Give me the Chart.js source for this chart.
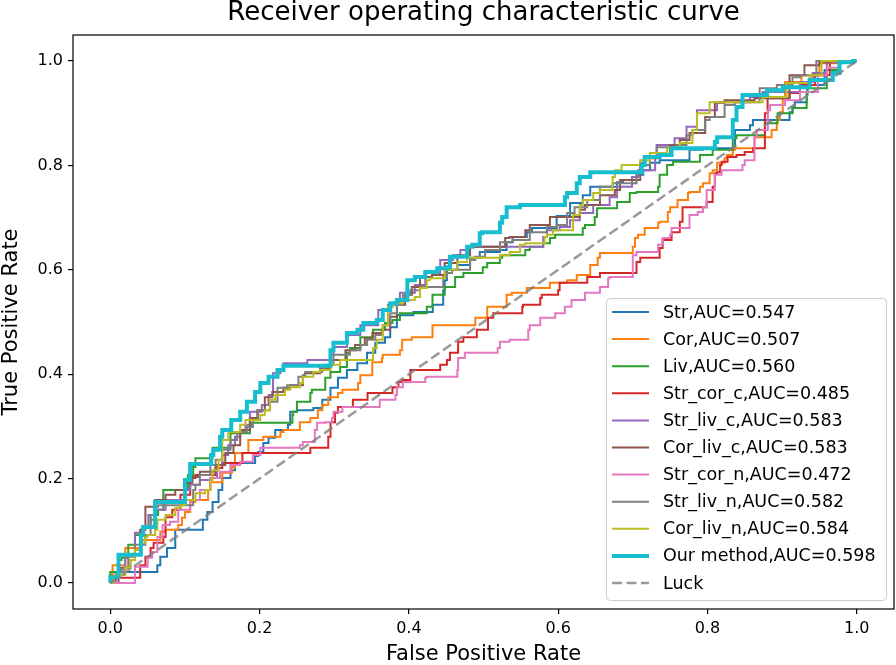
<!DOCTYPE html>
<html>
<head>
<meta charset="utf-8">
<script src="https://cdn.jsdelivr.net/npm/chart.js@4.4.1/dist/chart.umd.min.js"></script>
<style>
html,body{margin:0;padding:0;background:#fff;}
#wrap{width:896px;height:665px;}
</style>
</head>
<body>
<div id="wrap"><canvas id="c" width="896" height="665"></canvas></div>
<script>
// ---------- data (fpr, tpr) ----------
const chartTitle = 'Receiver operating characteristic curve';
const seriesNames = ['Str','Cor','Liv','Str_cor_c','Str_liv_c','Cor_liv_c','Str_cor_n','Str_liv_n','Cor_liv_n','Our method'];
const seriesAUC = [0.547,0.507,0.560,0.485,0.583,0.583,0.472,0.582,0.584,0.598];
const tickValues = [0,0.2,0.4,0.6,0.8,1.0];
const tickLabels = ['0.0','0.2','0.4','0.6','0.8','1.0'];
const luck = [[0,0],[1,1]];

const strRoc = [[0,0],[0.007,0],[0.009,0.021],[0.063,0.021],[0.067,0.034],[0.076,0.050],[0.087,0.067],[0.087,0.102],[0.124,0.102],[0.130,0.121],[0.137,0.136],[0.145,0.155],[0.150,0.178],[0.161,0.201],[0.167,0.216],[0.194,0.230],[0.198,0.243],[0.205,0.251],[0.212,0.268],[0.221,0.278],[0.238,0.293],[0.241,0.303],[0.250,0.328],[0.272,0.331],[0.284,0.335],[0.295,0.351],[0.305,0.374],[0.317,0.393],[0.331,0.408],[0.344,0.421],[0.355,0.441],[0.368,0.460],[0.375,0.471],[0.384,0.490],[0.406,0.513],[0.432,0.519],[0.446,0.533],[0.448,0.561],[0.451,0.580],[0.465,0.600],[0.482,0.609],[0.495,0.623],[0.522,0.634],[0.531,0.638],[0.539,0.653],[0.558,0.663],[0.565,0.672],[0.598,0.680],[0.616,0.703],[0.633,0.728],[0.643,0.743],[0.679,0.759],[0.687,0.768],[0.705,0.772],[0.714,0.782],[0.723,0.791],[0.736,0.805],[0.776,0.810],[0.794,0.830],[0.837,0.833],[0.839,0.868],[0.857,0.868],[0.861,0.877],[0.910,0.887],[0.914,0.902],[0.917,0.912],[0.933,0.921],[0.934,0.935],[0.957,0.954],[0.977,0.983],[0.991,0.998],[1,1]];

const corRoc = [[0,0],[0.003,0.015],[0.004,0.034],[0.020,0.034],[0.040,0.067],[0.067,0.082],[0.074,0.098],[0.091,0.102],[0.096,0.111],[0.100,0.125],[0.107,0.136],[0.114,0.155],[0.131,0.159],[0.134,0.178],[0.150,0.193],[0.163,0.211],[0.167,0.222],[0.185,0.249],[0.205,0.274],[0.228,0.280],[0.232,0.289],[0.254,0.293],[0.268,0.308],[0.278,0.316],[0.284,0.331],[0.292,0.341],[0.305,0.356],[0.311,0.364],[0.332,0.370],[0.335,0.383],[0.351,0.398],[0.364,0.423],[0.365,0.431],[0.388,0.437],[0.391,0.446],[0.404,0.466],[0.431,0.471],[0.432,0.485],[0.446,0.494],[0.489,0.494],[0.491,0.508],[0.505,0.508],[0.509,0.529],[0.531,0.529],[0.538,0.552],[0.558,0.556],[0.560,0.565],[0.589,0.565],[0.612,0.575],[0.625,0.580],[0.643,0.590],[0.653,0.609],[0.656,0.623],[0.659,0.632],[0.700,0.632],[0.703,0.644],[0.707,0.661],[0.716,0.667],[0.734,0.680],[0.736,0.690],[0.747,0.692],[0.750,0.711],[0.760,0.720],[0.763,0.734],[0.774,0.734],[0.776,0.747],[0.790,0.749],[0.794,0.759],[0.803,0.766],[0.807,0.785],[0.813,0.791],[0.823,0.805],[0.826,0.814],[0.834,0.820],[0.837,0.830],[0.863,0.833],[0.866,0.854],[0.886,0.854],[0.893,0.868],[0.897,0.887],[0.901,0.902],[0.904,0.931],[0.926,0.960],[0.950,0.973],[0.977,0.996],[1,1]];

const livRoc = [[0,0],[0,0.021],[0.011,0.021],[0.015,0.044],[0.024,0.048],[0.033,0.073],[0.044,0.092],[0.054,0.105],[0.064,0.130],[0.071,0.140],[0.076,0.178],[0.104,0.178],[0.111,0.207],[0.114,0.222],[0.137,0.239],[0.161,0.259],[0.187,0.287],[0.190,0.299],[0.201,0.307],[0.244,0.307],[0.245,0.322],[0.250,0.328],[0.252,0.347],[0.268,0.347],[0.270,0.364],[0.288,0.370],[0.295,0.393],[0.308,0.404],[0.317,0.414],[0.321,0.441],[0.335,0.450],[0.352,0.471],[0.368,0.485],[0.378,0.498],[0.388,0.504],[0.392,0.517],[0.424,0.517],[0.431,0.529],[0.432,0.536],[0.448,0.552],[0.462,0.567],[0.473,0.586],[0.499,0.594],[0.505,0.605],[0.522,0.613],[0.525,0.623],[0.556,0.628],[0.562,0.638],[0.580,0.644],[0.589,0.651],[0.596,0.661],[0.633,0.667],[0.636,0.680],[0.649,0.686],[0.652,0.701],[0.679,0.718],[0.696,0.730],[0.705,0.747],[0.734,0.749],[0.736,0.759],[0.746,0.782],[0.754,0.801],[0.790,0.807],[0.807,0.820],[0.834,0.830],[0.839,0.852],[0.877,0.858],[0.894,0.881],[0.914,0.900],[0.933,0.910],[0.934,0.939],[0.960,0.948],[0.977,0.983],[0.991,0.998],[1,1]];

const strCorCRoc = [[0,0],[0.011,0],[0.016,0.010],[0.040,0.010],[0.047,0.034],[0.054,0.050],[0.058,0.067],[0.071,0.077],[0.074,0.088],[0.083,0.126],[0.094,0.140],[0.107,0.169],[0.114,0.201],[0.141,0.207],[0.150,0.220],[0.177,0.230],[0.214,0.249],[0.268,0.249],[0.270,0.259],[0.292,0.259],[0.295,0.280],[0.301,0.308],[0.305,0.326],[0.325,0.337],[0.328,0.351],[0.344,0.351],[0.345,0.360],[0.378,0.364],[0.379,0.374],[0.386,0.375],[0.391,0.385],[0.402,0.389],[0.442,0.408],[0.451,0.418],[0.455,0.427],[0.466,0.441],[0.473,0.462],[0.491,0.471],[0.506,0.485],[0.513,0.508],[0.522,0.517],[0.552,0.517],[0.553,0.529],[0.576,0.533],[0.578,0.546],[0.600,0.552],[0.602,0.561],[0.613,0.575],[0.639,0.575],[0.656,0.586],[0.680,0.594],[0.705,0.594],[0.710,0.615],[0.736,0.623],[0.740,0.642],[0.752,0.657],[0.763,0.672],[0.766,0.692],[0.767,0.720],[0.799,0.720],[0.807,0.730],[0.810,0.759],[0.813,0.785],[0.817,0.787],[0.819,0.801],[0.827,0.807],[0.839,0.816],[0.850,0.820],[0.861,0.826],[0.877,0.833],[0.880,0.900],[0.881,0.920],[0.910,0.929],[0.924,0.939],[0.944,0.954],[0.964,0.973],[0.984,0.998],[1,1]];

const strLivCRoc = [[0,0],[0.004,0.010],[0.013,0.010],[0.020,0.025],[0.033,0.054],[0.043,0.096],[0.051,0.105],[0.060,0.130],[0.074,0.140],[0.100,0.159],[0.107,0.178],[0.120,0.188],[0.134,0.197],[0.143,0.201],[0.150,0.226],[0.158,0.245],[0.167,0.264],[0.174,0.280],[0.181,0.289],[0.187,0.303],[0.203,0.328],[0.212,0.341],[0.218,0.360],[0.228,0.402],[0.232,0.408],[0.264,0.421],[0.265,0.427],[0.295,0.427],[0.299,0.437],[0.317,0.452],[0.335,0.475],[0.359,0.494],[0.372,0.523],[0.388,0.533],[0.408,0.556],[0.422,0.571],[0.442,0.594],[0.459,0.619],[0.469,0.628],[0.482,0.638],[0.542,0.644],[0.580,0.644],[0.585,0.663],[0.602,0.676],[0.616,0.682],[0.629,0.695],[0.647,0.709],[0.669,0.724],[0.679,0.739],[0.699,0.759],[0.707,0.778],[0.730,0.791],[0.732,0.816],[0.756,0.839],[0.772,0.852],[0.786,0.874],[0.813,0.906],[0.823,0.921],[0.857,0.921],[0.874,0.931],[0.924,0.941],[0.941,0.960],[0.960,0.977],[0.981,0.998],[1,1]];

const corLivCRoc = [[0,0],[0.007,0.006],[0.013,0.015],[0.027,0.029],[0.033,0.044],[0.040,0.063],[0.047,0.102],[0.054,0.146],[0.060,0.146],[0.074,0.159],[0.087,0.169],[0.100,0.178],[0.110,0.192],[0.120,0.203],[0.141,0.213],[0.154,0.226],[0.165,0.249],[0.174,0.264],[0.187,0.293],[0.197,0.316],[0.207,0.331],[0.217,0.356],[0.232,0.366],[0.241,0.374],[0.258,0.379],[0.261,0.398],[0.281,0.402],[0.295,0.412],[0.315,0.427],[0.328,0.446],[0.341,0.456],[0.351,0.469],[0.364,0.479],[0.375,0.485],[0.384,0.510],[0.395,0.533],[0.404,0.552],[0.415,0.567],[0.431,0.586],[0.448,0.590],[0.465,0.613],[0.482,0.628],[0.495,0.644],[0.529,0.644],[0.535,0.661],[0.556,0.663],[0.562,0.676],[0.589,0.686],[0.598,0.701],[0.629,0.701],[0.636,0.715],[0.656,0.724],[0.676,0.743],[0.683,0.753],[0.710,0.772],[0.716,0.805],[0.736,0.814],[0.750,0.820],[0.763,0.839],[0.776,0.849],[0.797,0.862],[0.810,0.893],[0.823,0.920],[0.863,0.925],[0.910,0.929],[0.930,0.973],[0.950,0.992],[0.964,0.998],[1,1]];

const strCorNRoc = [[0,0],[0.033,0],[0.050,0.031],[0.056,0.048],[0.063,0.059],[0.070,0.088],[0.080,0.111],[0.091,0.117],[0.107,0.140],[0.120,0.159],[0.134,0.178],[0.147,0.201],[0.161,0.213],[0.174,0.226],[0.191,0.232],[0.201,0.245],[0.212,0.259],[0.254,0.259],[0.258,0.264],[0.274,0.270],[0.277,0.293],[0.288,0.307],[0.297,0.308],[0.299,0.316],[0.311,0.328],[0.315,0.337],[0.361,0.337],[0.382,0.351],[0.384,0.360],[0.392,0.375],[0.422,0.385],[0.424,0.393],[0.465,0.395],[0.466,0.408],[0.475,0.431],[0.486,0.441],[0.519,0.441],[0.522,0.450],[0.535,0.462],[0.560,0.466],[0.562,0.485],[0.576,0.494],[0.596,0.508],[0.609,0.517],[0.618,0.529],[0.636,0.542],[0.656,0.556],[0.667,0.567],[0.669,0.584],[0.700,0.586],[0.705,0.628],[0.734,0.634],[0.740,0.648],[0.750,0.661],[0.752,0.667],[0.776,0.680],[0.787,0.705],[0.794,0.711],[0.799,0.720],[0.810,0.753],[0.819,0.782],[0.847,0.791],[0.850,0.801],[0.863,0.810],[0.866,0.854],[0.881,0.868],[0.884,0.906],[0.904,0.916],[0.924,0.925],[0.948,0.941],[0.960,0.973],[0.977,0.987],[1,1]];

const strLivNRoc = [[0,0],[0,0.010],[0.013,0.010],[0.020,0.021],[0.024,0.029],[0.033,0.050],[0.047,0.073],[0.054,0.092],[0.060,0.121],[0.064,0.146],[0.111,0.149],[0.114,0.178],[0.120,0.188],[0.134,0.207],[0.141,0.226],[0.150,0.236],[0.161,0.255],[0.170,0.274],[0.183,0.289],[0.191,0.299],[0.198,0.312],[0.214,0.331],[0.224,0.347],[0.237,0.374],[0.252,0.379],[0.261,0.395],[0.265,0.404],[0.284,0.404],[0.288,0.412],[0.299,0.418],[0.321,0.437],[0.335,0.446],[0.344,0.456],[0.355,0.466],[0.365,0.475],[0.375,0.494],[0.384,0.517],[0.392,0.533],[0.402,0.552],[0.415,0.561],[0.446,0.567],[0.451,0.586],[0.458,0.594],[0.482,0.600],[0.489,0.619],[0.502,0.625],[0.522,0.638],[0.539,0.653],[0.562,0.657],[0.585,0.672],[0.598,0.682],[0.612,0.686],[0.622,0.709],[0.639,0.720],[0.656,0.734],[0.673,0.759],[0.705,0.766],[0.710,0.785],[0.723,0.801],[0.732,0.824],[0.759,0.835],[0.772,0.839],[0.780,0.858],[0.797,0.868],[0.803,0.887],[0.823,0.893],[0.837,0.916],[0.870,0.921],[0.893,0.948],[0.914,0.954],[0.924,0.969],[0.946,0.973],[0.957,1],[1,1]];

const corLivNRoc = [[0,0],[0.004,0],[0.007,0.010],[0.020,0.015],[0.027,0.029],[0.033,0.044],[0.040,0.063],[0.047,0.077],[0.050,0.088],[0.060,0.092],[0.063,0.102],[0.074,0.121],[0.087,0.130],[0.094,0.144],[0.100,0.149],[0.114,0.159],[0.127,0.172],[0.134,0.178],[0.137,0.197],[0.145,0.216],[0.150,0.236],[0.158,0.274],[0.174,0.289],[0.181,0.303],[0.201,0.312],[0.207,0.322],[0.214,0.331],[0.221,0.351],[0.234,0.360],[0.241,0.370],[0.254,0.375],[0.258,0.383],[0.272,0.395],[0.281,0.404],[0.295,0.408],[0.308,0.418],[0.312,0.427],[0.352,0.427],[0.357,0.450],[0.365,0.466],[0.372,0.494],[0.379,0.529],[0.392,0.536],[0.408,0.542],[0.415,0.548],[0.424,0.565],[0.428,0.580],[0.448,0.584],[0.465,0.600],[0.478,0.615],[0.486,0.623],[0.522,0.623],[0.535,0.628],[0.549,0.634],[0.556,0.648],[0.582,0.651],[0.585,0.663],[0.593,0.667],[0.620,0.676],[0.629,0.705],[0.633,0.724],[0.647,0.734],[0.656,0.747],[0.673,0.753],[0.676,0.778],[0.685,0.791],[0.710,0.801],[0.723,0.810],[0.746,0.824],[0.763,0.833],[0.780,0.843],[0.786,0.868],[0.803,0.900],[0.823,0.921],[0.874,0.921],[0.906,0.931],[0.917,0.958],[0.937,0.958],[0.953,0.973],[0.957,1],[1,1]];

const ourRoc = [[0,0],[0,0.011],[0.011,0.011],[0.015,0.054],[0.041,0.054],[0.044,0.092],[0.060,0.107],[0.063,0.155],[0.100,0.155],[0.107,0.197],[0.111,0.228],[0.135,0.228],[0.138,0.245],[0.147,0.255],[0.150,0.280],[0.162,0.293],[0.174,0.312],[0.183,0.328],[0.194,0.347],[0.201,0.366],[0.212,0.383],[0.224,0.395],[0.232,0.408],[0.245,0.416],[0.295,0.416],[0.299,0.446],[0.317,0.460],[0.331,0.479],[0.339,0.485],[0.357,0.498],[0.365,0.504],[0.375,0.523],[0.384,0.536],[0.398,0.542],[0.408,0.580],[0.422,0.586],[0.438,0.596],[0.451,0.603],[0.455,0.605],[0.478,0.625],[0.485,0.644],[0.495,0.648],[0.498,0.670],[0.522,0.672],[0.525,0.690],[0.531,0.701],[0.549,0.720],[0.609,0.724],[0.612,0.739],[0.625,0.747],[0.629,0.766],[0.643,0.778],[0.656,0.787],[0.712,0.787],[0.716,0.801],[0.736,0.816],[0.752,0.820],[0.790,0.833],[0.810,0.833],[0.813,0.845],[0.834,0.854],[0.839,0.887],[0.847,0.912],[0.880,0.935],[0.901,0.944],[0.937,0.950],[0.968,0.964],[0.977,0.977],[0.995,0.998],[1,1]];

const rocCurves = [strRoc, corRoc, livRoc, strCorCRoc, strLivCRoc, corLivCRoc, strCorNRoc, strLivNRoc, corLivNRoc, ourRoc];

// ---------- styling ----------
const palette = ['#1f77b4','#ff7f0e','#2ca02c','#d62728','#9467bd','#8c564b','#e377c2','#7f7f7f','#bcbd22','#17becf'];
const widths = [2,2,2,2,2,2,2,2,2,4];
const luckColor = 'rgba(128,128,128,0.8)';
const luckDash = [10,4.5];
const FONT = 'DejaVu Sans';

// ROC staircase: rise vertically, then run horizontally
function staircase(pts) {
  const out = [];
  pts.forEach((p, i) => {
    if (i > 0) out.push({x: pts[i-1][0], y: p[1]});
    out.push({x: p[0], y: p[1]});
  });
  return out;
}

const datasets = rocCurves.map((c, i) => ({
  label: seriesNames[i] + ',AUC=' + seriesAUC[i].toFixed(3),
  data: staircase(c),
  borderColor: palette[i],
  backgroundColor: palette[i],
  borderWidth: widths[i],
  pointRadius: 0,
  tension: 0,
  fill: false,
  order: 100 - i
}));
datasets.push({
  label: 'Luck',
  data: luck.map(p => ({x: p[0], y: p[1]})),
  borderColor: luckColor,
  borderWidth: 2.5,
  borderDash: luckDash,
  pointRadius: 0,
  fill: false,
  order: 0
});

// axes title centred over the plot area (matplotlib style)
const titlePlugin = {
  id: 'axesTitle',
  afterDraw(chart) {
    const {ctx, chartArea: a} = chart;
    ctx.save();
    ctx.font = '26px "' + FONT + '"';
    ctx.fillStyle = '#000';
    ctx.textAlign = 'center';
    ctx.textBaseline = 'middle';
    ctx.fillText(chartTitle, (a.left + a.right) / 2, 13);
    ctx.restore();
  }
};

const framePlugin = {
  id: 'frame',
  afterDatasetsDraw(chart) {
    const {ctx, chartArea: a} = chart;
    ctx.save();
    ctx.strokeStyle = '#000';
    ctx.lineWidth = 1.2;
    ctx.strokeRect(a.left, a.top, a.right - a.left, a.bottom - a.top);
    ctx.restore();
  }
};

const legendPlugin = {
  id: 'mplLegend',
  afterDraw(chart) {
    const {ctx, chartArea: a} = chart;
    const w = 280, h = 302;
    const x0 = a.right - 8 - w, y0 = a.bottom - 9 - h;
    ctx.save();
    ctx.beginPath();
    ctx.roundRect(x0 + 0.5, y0 + 0.5, w, h, 4);
    ctx.fillStyle = 'rgba(255,255,255,0.8)';
    ctx.fill();
    ctx.strokeStyle = '#cccccc';
    ctx.lineWidth = 1;
    ctx.stroke();
    const rowH = 27.1;
    ctx.font = '17.5px "' + FONT + '"';
    ctx.textBaseline = 'middle';
    ctx.textAlign = 'left';
    chart.data.datasets.forEach((ds, i) => {
      const y = y0 + 14 + i * rowH;
      ctx.beginPath();
      ctx.setLineDash(ds.borderDash || []);
      ctx.strokeStyle = ds.borderColor;
      ctx.lineWidth = ds.borderWidth;
      ctx.moveTo(x0 + 6, y);
      ctx.lineTo(x0 + 43, y);
      ctx.stroke();
      ctx.setLineDash([]);
      ctx.fillStyle = '#000';
      ctx.fillText(ds.label, x0 + 57, y + 1);
    });
    ctx.restore();
  }
};

function axisCommon() {
  return {
    type: 'linear', min: -0.05, max: 1.05,
    afterBuildTicks: s => { s.ticks = tickValues.map(v => ({value: v})); },
    ticks: { callback: (v, i) => tickLabels[i], font: {family: FONT, size: 16}, color: '#000', padding: 5, maxRotation: 0, autoSkip: false },
    grid: { drawOnChartArea: false, drawTicks: true, tickLength: 5, color: '#000', lineWidth: 1.2 },
    border: { display: false }
  };
}

const xAxis = Object.assign(axisCommon(), {
  afterFit: s => { s.height = 56; },
  title: { display: true, text: 'False Positive Rate', font: {family: FONT, size: 21, lineHeight: 1}, color: '#000', padding: {top: 0, bottom: 0} }
});
const yAxis = Object.assign(axisCommon(), {
  afterFit: s => { s.width = 73; },
  title: { display: true, text: 'True Positive Rate', font: {family: FONT, size: 21, lineHeight: 1}, color: '#000', padding: {top: 1.5, bottom: 0} }
});

new Chart(document.getElementById('c').getContext('2d'), {
  type: 'line',
  data: { datasets },
  options: {
    responsive: false,
    animation: false,
    layout: { padding: { left: 0, right: 2, top: 35, bottom: 0 } },
    plugins: {
      legend: { display: false },
      tooltip: { enabled: false },
      title: { display: false }
    },
    scales: { x: xAxis, y: yAxis }
  },
  plugins: [framePlugin, legendPlugin, titlePlugin]
});
</script>
</body>
</html>
